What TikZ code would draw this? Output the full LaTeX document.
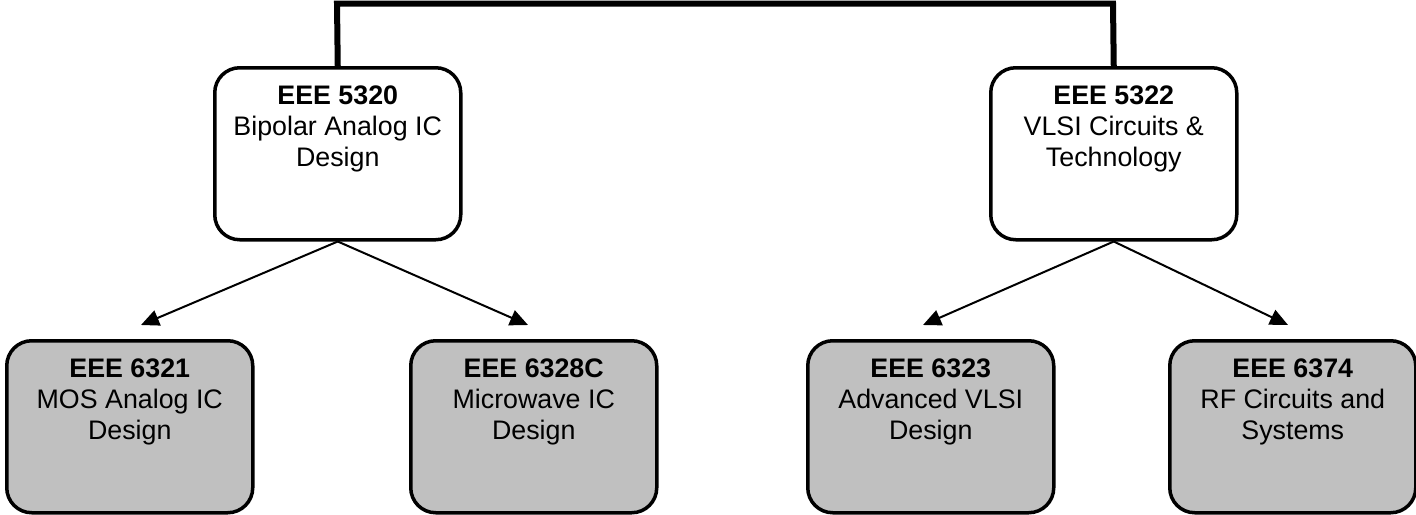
\documentclass[tikz,border=0pt]{standalone}
\usepackage{fontspec}
\setmainfont{Liberation Sans}
\usetikzlibrary{arrows.meta}
\definecolor{boxgrey}{HTML}{C0C0C0}
\begin{document}
\begin{tikzpicture}[x=1pt,y=-1pt,
  course/.style={draw=black, line width=3.5pt, rounded corners=25pt,
    minimum width=246pt, minimum height=172pt, inner sep=0pt, anchor=north west},
  upper/.style={course, fill=white},
  lower/.style={course, fill=boxgrey},
  label/.style={anchor=north, inner sep=0pt, align=center,
    font=\fontsize{26.8}{31}\selectfont},
  arr/.style={draw=black, line width=2pt, -{Triangle[length=18pt,width=16pt]}},
  trunk/.style={draw=black, line width=6pt, line join=miter}
]
\useasboundingbox (0,0) rectangle (1416,514);
% top boxes
\node[upper] (p1) at (213,66) {};
\node[upper] (p2) at (989,66) {};
% bottom boxes
\node[lower] (c1) at (5,339) {};
\node[lower] (c2) at (409,339) {};
\node[lower] (c3) at (806,339) {};
\node[lower] (c4) at (1168,339) {};
% labels
\node[label] (tp1) at ([yshift=-20pt]p1.north) {\textbf{EEE 5320}\\Bipolar Analog IC\\Design};
\node[label] (tp2) at ([yshift=-20pt]p2.north) {\textbf{EEE 5322}\\VLSI Circuits \&\\Technology};
\node[label] (tc1) at ([yshift=-20pt]c1.north) {\textbf{EEE 6321}\\MOS Analog IC\\Design};
\node[label] (tc2) at ([yshift=-20pt]c2.north) {\textbf{EEE 6328C}\\Microwave IC\\Design};
\node[label] (tc3) at ([yshift=-20pt]c3.north) {\textbf{EEE 6323}\\Advanced VLSI\\Design};
\node[label] (tc4) at ([yshift=-20pt]c4.north) {\textbf{EEE 6374}\\RF Circuits and\\Systems};
% trunk connector
\coordinate (tl) at (337,3.5);
\coordinate (tr) at (1113,3.5);
\draw[trunk] (p1.north) -- (tl) -- (tr) -- (p2.north);
% arrow end points
\coordinate (e1) at (141,325);
\coordinate (e2) at (528,325);
\coordinate (e3) at (923,325);
\coordinate (e4) at (1288,325);
\draw[arr] (p1.south) -- (e1);
\draw[arr] (p1.south) -- (e2);
\draw[arr] (p2.south) -- (e3);
\draw[arr] (p2.south) -- (e4);
\end{tikzpicture}
\end{document}
